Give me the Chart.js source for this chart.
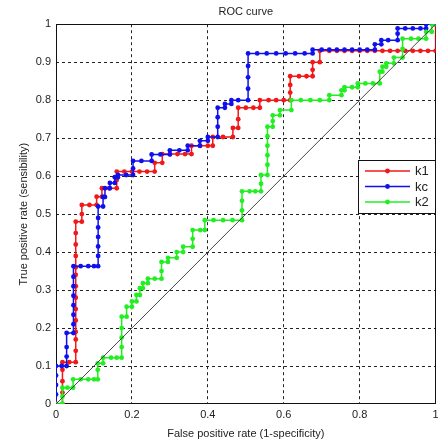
<!DOCTYPE html>
<html>
<head>
<meta charset="utf-8">
<script src="https://cdn.jsdelivr.net/npm/chart.js@4.4.0/dist/chart.umd.min.js"></script>
<style>
  html, body { margin: 0; padding: 0; background: #fff; }
  #wrap { width: 438px; height: 443px; }
</style>
</head>
<body>
<div id="wrap"><canvas id="rocChart" width="438" height="443"></canvas></div>
<script>
// tick labels
const xTickLabels = ['0', '0.2', '0.4', '0.6', '0.8', '1'];
const yTickLabels = ['0', '0.1', '0.2', '0.3', '0.4', '0.5', '0.6', '0.7', '0.8', '0.9', '1'];

// series: [false positive rate, true positive rate]
const k1Points = [
  [0,0],[0.017,0],[0.017,0.03],[0.017,0.06],[0.017,0.09],[0.017,0.11],[0.035,0.11],[0.052,0.11],
  [0.052,0.14],[0.052,0.17],[0.052,0.19],[0.052,0.22],[0.052,0.25],[0.052,0.28],[0.052,0.31],
  [0.052,0.34],[0.052,0.36],[0.052,0.39],[0.052,0.42],[0.052,0.45],[0.052,0.48],[0.068,0.48],
  [0.068,0.5],[0.068,0.524],[0.088,0.524],[0.107,0.524],[0.107,0.546],[0.121,0.546],[0.121,0.568],
  [0.14,0.568],[0.16,0.568],[0.16,0.59],[0.16,0.612],[0.18,0.612],[0.2,0.612],[0.22,0.612],
  [0.24,0.612],[0.26,0.612],[0.26,0.635],[0.28,0.635],[0.28,0.658],[0.3,0.658],[0.32,0.658],
  [0.34,0.658],[0.357,0.658],[0.357,0.68],[0.38,0.68],[0.4,0.68],[0.413,0.68],[0.413,0.703],
  [0.44,0.703],[0.466,0.703],[0.466,0.727],[0.48,0.727],[0.48,0.75],[0.48,0.78],[0.5,0.78],
  [0.52,0.78],[0.537,0.78],[0.537,0.8],[0.56,0.8],[0.58,0.8],[0.6,0.8],[0.617,0.8],[0.617,0.82],
  [0.617,0.84],[0.617,0.863],[0.64,0.863],[0.66,0.863],[0.676,0.863],[0.676,0.88],[0.676,0.9],
  [0.695,0.9],[0.695,0.93],[0.72,0.93],[0.74,0.93],[0.76,0.93],[0.78,0.93],[0.8,0.93],[0.82,0.93],
  [0.84,0.93],[0.86,0.93],[0.88,0.93],[0.9,0.93],[0.92,0.93],[0.94,0.93],[0.96,0.93],[0.98,0.93],
  [1,0.93],[1,1]
];

const kcPoints = [
  [0,0],[0,0.025],[0,0.05],[0,0.075],[0,0.1],[0.015,0.1],[0.028,0.1],[0.028,0.125],[0.028,0.15],
  [0.028,0.187],[0.046,0.187],[0.046,0.21],[0.046,0.235],[0.046,0.26],[0.046,0.285],[0.046,0.31],
  [0.046,0.335],[0.046,0.363],[0.065,0.363],[0.085,0.363],[0.1,0.363],[0.111,0.363],[0.111,0.39],
  [0.111,0.415],[0.111,0.44],[0.111,0.465],[0.111,0.49],[0.111,0.52],[0.124,0.52],[0.124,0.545],
  [0.129,0.545],[0.129,0.568],[0.142,0.568],[0.142,0.582],[0.155,0.582],[0.155,0.597],[0.163,0.597],
  [0.163,0.603],[0.185,0.603],[0.203,0.603],[0.203,0.62],[0.203,0.64],[0.225,0.64],[0.252,0.64],
  [0.252,0.657],[0.275,0.657],[0.3,0.657],[0.3,0.668],[0.325,0.668],[0.347,0.668],[0.347,0.68],
  [0.379,0.68],[0.379,0.693],[0.4,0.693],[0.4,0.703],[0.426,0.703],[0.426,0.73],[0.426,0.755],
  [0.426,0.78],[0.445,0.78],[0.445,0.79],[0.462,0.79],[0.462,0.8],[0.48,0.8],[0.506,0.8],
  [0.506,0.83],[0.506,0.86],[0.506,0.89],[0.506,0.923],[0.53,0.923],[0.555,0.923],[0.58,0.923],
  [0.605,0.923],[0.63,0.923],[0.655,0.923],[0.676,0.923],[0.676,0.933],[0.7,0.933],[0.72,0.933],
  [0.74,0.933],[0.76,0.933],[0.78,0.933],[0.8,0.933],[0.82,0.933],[0.84,0.933],[0.84,0.947],
  [0.857,0.947],[0.857,0.958],[0.875,0.958],[0.9,0.958],[0.9,0.975],[0.9,0.989],[0.92,0.989],
  [0.94,0.989],[0.96,0.989],[0.975,0.989],[0.975,1],[1,1]
];

const k2Points = [
  [0,0],[0.017,0],[0.017,0.02],[0.017,0.043],[0.03,0.043],[0.045,0.043],[0.045,0.065],[0.065,0.065],
  [0.085,0.065],[0.1,0.065],[0.11,0.065],[0.11,0.09],[0.11,0.107],[0.124,0.107],[0.124,0.122],
  [0.145,0.122],[0.16,0.122],[0.173,0.122],[0.173,0.15],[0.173,0.175],[0.173,0.2],[0.173,0.23],
  [0.186,0.23],[0.186,0.256],[0.2,0.256],[0.2,0.27],[0.212,0.27],[0.212,0.287],[0.221,0.287],
  [0.221,0.305],[0.229,0.305],[0.229,0.318],[0.242,0.318],[0.242,0.33],[0.26,0.33],[0.278,0.33],
  [0.278,0.35],[0.278,0.374],[0.295,0.374],[0.295,0.385],[0.318,0.385],[0.318,0.4],[0.335,0.4],
  [0.335,0.414],[0.36,0.414],[0.36,0.435],[0.36,0.458],[0.38,0.458],[0.392,0.458],[0.392,0.484],
  [0.415,0.484],[0.44,0.484],[0.465,0.484],[0.49,0.484],[0.49,0.51],[0.49,0.535],[0.49,0.56],
  [0.51,0.56],[0.525,0.56],[0.54,0.56],[0.54,0.58],[0.54,0.603],[0.557,0.603],[0.557,0.63],
  [0.557,0.655],[0.557,0.68],[0.557,0.705],[0.557,0.73],[0.571,0.73],[0.571,0.745],[0.571,0.76],
  [0.59,0.76],[0.59,0.774],[0.62,0.774],[0.62,0.8],[0.645,0.8],[0.67,0.8],[0.695,0.8],[0.72,0.8],
  [0.72,0.813],[0.752,0.813],[0.752,0.826],[0.76,0.826],[0.76,0.834],[0.78,0.834],[0.795,0.834],
  [0.795,0.844],[0.815,0.844],[0.835,0.844],[0.853,0.844],[0.853,0.875],[0.86,0.875],[0.86,0.888],
  [0.87,0.888],[0.87,0.897],[0.89,0.897],[0.89,0.912],[0.913,0.912],[0.913,0.935],[0.913,0.962],
  [0.935,0.962],[0.955,0.962],[0.975,0.962],[0.975,0.98],[0.99,0.98],[0.99,1],[1,1]
];

const chancePoints = [[0,0],[1,1]];

const toXY = pts => pts.map(p => ({x: p[0], y: p[1]}));

const baseFont = "'Liberation Sans Narrow', 'Liberation Sans', Arial, sans-serif";

// black box round the plot
const frame = {
  id: 'frame',
  beforeDatasetsDraw(chart) {
    const {ctx, chartArea: a} = chart;
    ctx.save();
    ctx.strokeStyle = '#111';
    ctx.lineWidth = 1;
    ctx.strokeRect(Math.round(a.left) + 0.5, Math.round(a.top) + 0.5,
      Math.round(a.right - a.left) - 1, Math.round(a.bottom - a.top) - 1);
    ctx.restore();
  }
};

// legend box drawn inside the plot, like matlab
const boxLegend = {
  id: 'boxLegend',
  afterDraw(chart) {
    const ctx = chart.ctx;
    const items = chart.data.datasets.filter(d => d.label);
    const x0 = 358, y0 = 160, w = 78, h = 54;
    ctx.save();
    ctx.fillStyle = '#fff';
    ctx.fillRect(x0, y0, w, h);
    ctx.strokeStyle = '#111';
    ctx.lineWidth = 1;
    ctx.strokeRect(x0 + 0.5, y0 + 0.5, w - 1, h - 1);
    items.forEach((d, i) => {
      const y = y0 + 11 + i * 15.5;
      ctx.strokeStyle = d.borderColor;
      ctx.lineWidth = 1.5;
      ctx.beginPath();
      ctx.moveTo(365, y);
      ctx.lineTo(410, y);
      ctx.stroke();
      ctx.fillStyle = d.borderColor;
      ctx.beginPath();
      ctx.arc(387.5, y, 2.4, 0, Math.PI * 2);
      ctx.fill();
      ctx.fillStyle = '#222';
      ctx.font = "13px 'Liberation Sans', Arial, sans-serif";
      ctx.textBaseline = 'middle';
      ctx.fillText(d.label, 415, y + 0.5);
    });
    ctx.restore();
  }
};

const gridColor = c => (c.tick && (c.tick.value === 0 || c.tick.value === 1)) ? 'rgba(0,0,0,0)' : '#222';

new Chart(document.getElementById('rocChart'), {
  type: 'scatter',
  data: {
    datasets: [
      { label: 'k1', data: toXY(k1Points), borderColor: '#f01818', backgroundColor: '#f01818', order: 3 },
      { label: 'kc', data: toXY(kcPoints), borderColor: '#1010ee', backgroundColor: '#1010ee', order: 2 },
      { label: 'k2', data: toXY(k2Points), borderColor: '#22ee22', backgroundColor: '#22ee22', order: 1 },
      { label: '', data: toXY(chancePoints), borderColor: '#333', backgroundColor: '#333',
        borderWidth: 0.9, pointRadius: 0, order: 0 }
    ]
  },
  options: {
    responsive: false,
    animation: false,
    showLine: true,
    layout: { padding: { right: 2, left: 0, top: 0, bottom: 0 } },
    elements: {
      line: { borderWidth: 1.5, tension: 0 },
      point: { radius: 2.4, borderWidth: 0, hoverRadius: 2.4 }
    },
    plugins: {
      legend: { display: false },
      tooltip: { enabled: false },
      title: {
        display: true,
        text: 'ROC curve',
        fullSize: false,
        color: '#222',
        font: { family: baseFont, size: 11, weight: 'normal' },
        padding: { top: 5, bottom: 6 }
      }
    },
    scales: {
      x: {
        type: 'linear',
        min: 0, max: 1,
        afterFit: s => { s.height = 39; s.paddingLeft = 0; s.paddingRight = 0; },
        afterBuildTicks: s => { s.ticks = xTickLabels.map(t => ({ value: parseFloat(t) })); },
        ticks: {
          callback: (v, i) => xTickLabels[i],
          color: '#222',
          padding: 4,
          maxRotation: 0,
          font: { family: baseFont, size: 11 }
        },
        grid: { color: gridColor, lineWidth: 1, drawTicks: false },
        border: { display: false, dash: [3, 3] },
        title: {
          display: true,
          text: 'False positive rate (1-specificity)',
          color: '#222',
          font: { family: baseFont, size: 11 },
          padding: { top: 0, bottom: 2 }
        }
      },
      y: {
        type: 'linear',
        min: 0, max: 1,
        afterFit: s => { s.width = 56; s.paddingTop = 0; s.paddingBottom = 0; },
        afterBuildTicks: s => { s.ticks = yTickLabels.map(t => ({ value: parseFloat(t) })); },
        ticks: {
          callback: (v, i) => yTickLabels[i],
          color: '#222',
          padding: 5,
          font: { family: baseFont, size: 11 }
        },
        grid: { color: gridColor, lineWidth: 1, drawTicks: false },
        border: { display: false, dash: [3, 3] },
        title: {
          display: true,
          text: 'True positive rate (sensibility)',
          color: '#222',
          font: { family: baseFont, size: 11 },
          padding: { top: 17, bottom: 0 }
        }
      }
    }
  },
  plugins: [frame, boxLegend]
});
</script>
</body>
</html>
